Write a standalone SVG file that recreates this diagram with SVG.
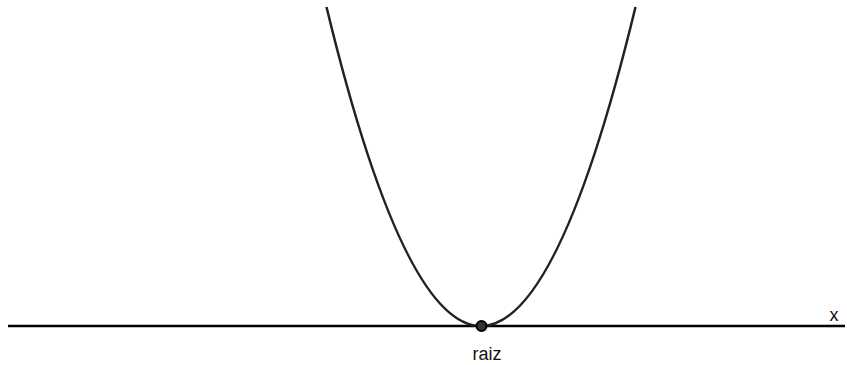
<svg xmlns="http://www.w3.org/2000/svg" width="847" height="365" viewBox="0 0 847 365">
<style>
.lbl{font-family:"Liberation Sans",Arial,sans-serif;font-size:18px;fill:#111}
.curve{fill:none;stroke:#222;stroke-width:2.5}
.axis{stroke:#000;stroke-width:2.5}
</style>
<rect width="847" height="365" fill="#fff"/>
<g id="axis">
<line class="axis" x1="8" y1="326" x2="845" y2="326"/>
<text class="lbl" x="834" y="321" text-anchor="middle">x</text>
</g>
<g id="parabola">
<path class="curve" d="M326.5,7 Q403.75,326 481,326 Q558.25,326 635.5,7"/>
</g>
<g id="root">
<circle cx="481.5" cy="326" r="5" fill="#333" stroke="#000" stroke-width="2"/>
<text class="lbl" x="487" y="360" text-anchor="middle">raiz</text>
</g>
</svg>
